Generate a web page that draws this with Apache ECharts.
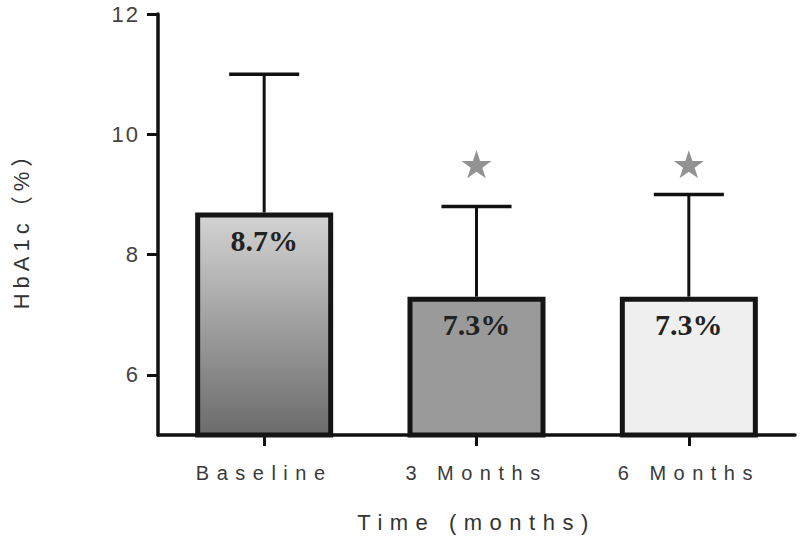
<!DOCTYPE html>
<html><head><meta charset="utf-8">
<script src="https://cdn.jsdelivr.net/npm/echarts@6/dist/echarts.min.js"></script>
<style>html,body{margin:0;padding:0;background:#fff}#c{width:800px;height:552px}</style>
</head><body><div id="c"></div>
<script>
// ---- data ----
const categories = ['Baseline', '3 Months', '6 Months'];
const meanValues = [8.7, 7.3, 7.3];
const upperValues = [11.0, 8.8, 9.0];
const starValues = [null, 9.5, 9.5];
const barLabels = ['8.7%', '7.3%', '7.3%'];
const yTicks = [6, 8, 10, 12];
const yName = 'HbA1c（%）';
const xName = 'Time (months)';

// ---- styles ----
const SANS = "'Liberation Sans', Arial, 'Noto Sans CJK SC', sans-serif";
const SERIF = "'Liberation Serif', 'Times New Roman', serif";
const fills = [
  new echarts.graphic.LinearGradient(0, 0, 0, 1, [
    {offset: 0, color: '#d3d3d3'}, {offset: 1, color: '#6b6b6b'}
  ]),
  '#9a9a9a',
  '#efefef'
];
const STAR = 'path://M50,0 L61.8,35.1 L98.9,35.1 L68.9,56.9 L80.2,92.1 L50,70.5 L19.8,92.1 L31.1,56.9 L1.1,35.1 L38.2,35.1 Z';

const chart = echarts.init(document.getElementById('c'), null, {renderer: 'svg'});
const option = {
  animation: false,
  backgroundColor: '#fff',
  grid: {left: 158, right: 5, top: 14, bottom: 117, containLabel: false},
  xAxis: {
    type: 'category',
    data: categories,
    boundaryGap: true,
    name: xName,
    nameLocation: 'middle',
    nameGap: 76,
    nameTextStyle: {fontSize: 22, color: '#333', fontFamily: SANS},
    axisLine: {show: true, lineStyle: {color: '#111', width: 3.5}},
    axisTick: {show: true, alignWithLabel: true, length: 11, lineStyle: {color: '#111', width: 3}},
    axisLabel: {fontSize: 20, color: '#3a3a3a', margin: 28, fontFamily: SANS}
  },
  yAxis: {
    type: 'value',
    min: 5, max: 12,
    name: yName,
    nameLocation: 'middle',
    nameRotate: 90,
    nameGap: 126,
    nameTextStyle: {fontSize: 22, color: '#333', fontFamily: SANS},
    axisLine: {show: true, lineStyle: {color: '#111', width: 3.5}},
    axisTick: {show: true, length: 11, lineStyle: {color: '#111', width: 3}, customValues: yTicks},
    axisLabel: {customValues: yTicks, fontSize: 22, color: '#444', margin: 18, fontFamily: SANS},
    splitLine: {show: false}
  },
  series: [
    {
      type: 'custom',
      z: 1,
      encode: {x: 0, y: [1, 2]},
      data: categories.map((c, i) => [i, meanValues[i], upperValues[i]]),
      renderItem(params, api) {
        const x = api.value(0);
        const base = api.coord([x, api.value(1)]);
        const top = api.coord([x, api.value(2)]);
        const hw = api.size([1, 0])[0] * 0.165;
        return {type: 'group', children: [
          {type: 'line', shape: {x1: base[0], y1: base[1], x2: top[0], y2: top[1]}, style: {stroke: '#111', lineWidth: 3}},
          {type: 'line', shape: {x1: top[0] - hw, y1: top[1], x2: top[0] + hw, y2: top[1]}, style: {stroke: '#111', lineWidth: 3.5}}
        ]};
      }
    },
    {
      type: 'bar',
      z: 2,
      barWidth: '65%',
      data: meanValues.map((v, i) => ({value: v, itemStyle: {color: fills[i]}})),
      itemStyle: {borderColor: '#151515', borderWidth: 5},
      label: {
        show: true, position: 'insideTop', distance: 13,
        formatter: p => barLabels[p.dataIndex],
        fontFamily: SERIF, fontWeight: 'bold', fontSize: 30, color: '#222'
      }
    },
    {
      type: 'scatter',
      z: 3,
      symbol: STAR,
      symbolSize: [30, 28],
      itemStyle: {color: '#777'},
      data: starValues
    }
  ]
};
chart.setOption(option);

function applySpacing() {
  document.querySelectorAll('#c text').forEach(t => {
    const s = t.textContent;
    let ls = null;
    if (categories.includes(s)) ls = 7.5;
    else if (s === xName) ls = 7.5;
    else if (s === yName) ls = 5;
    else if (yTicks.map(String).includes(s)) ls = 2;
    if (ls != null) t.setAttribute('letter-spacing', ls + 'px');
  });
}
try { chart.getZr().refreshImmediately(); } catch (e) {}
applySpacing();
chart.on('finished', applySpacing);
setTimeout(applySpacing, 50);
</script>
</body></html>
